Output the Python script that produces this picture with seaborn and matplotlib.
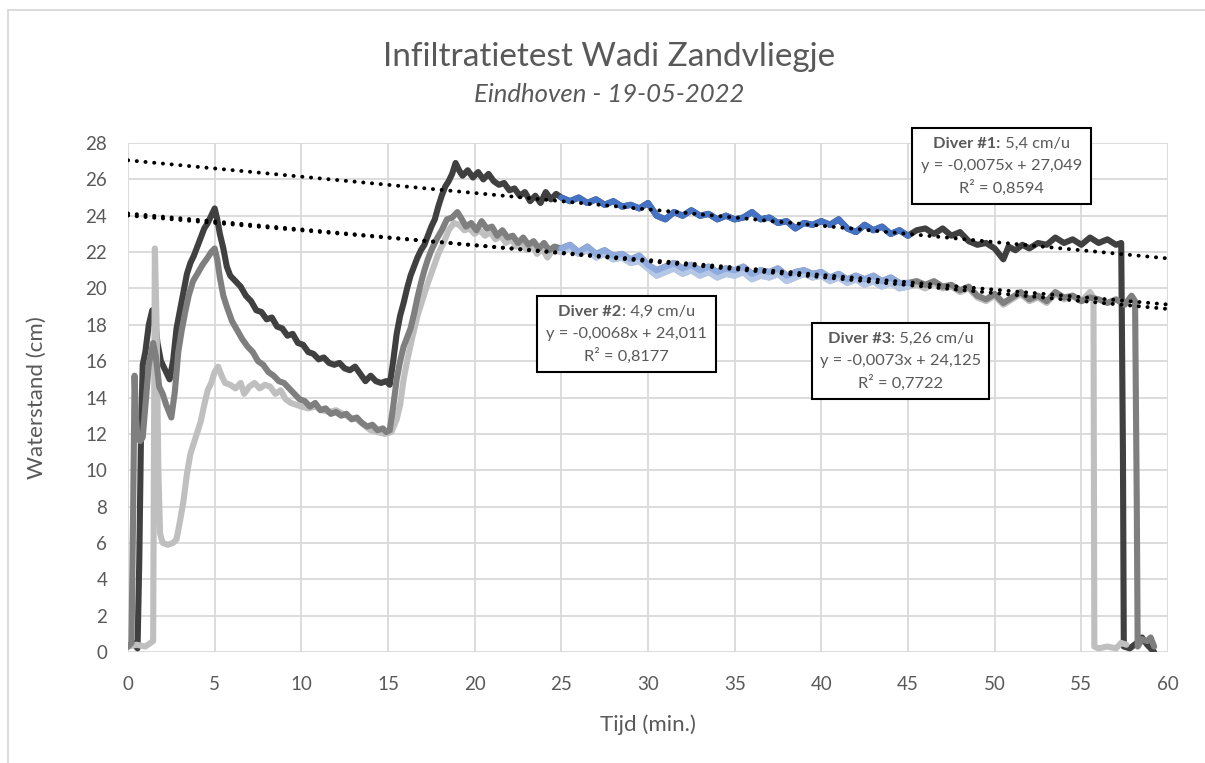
import numpy as np
import pandas as pd
import matplotlib
matplotlib.use("Agg")
import matplotlib.pyplot as plt
from matplotlib.patches import Rectangle
import seaborn as sns

# ---------------- data ----------------
d1_t = [0, 0.3, 0.55, 0.65, 0.75, 0.85, 1.0, 1.2, 1.4, 1.55, 1.7, 1.9, 2.1, 2.4, 2.6, 2.8, 3.0, 3.2, 3.4, 3.6,
        3.8, 4.0, 4.2, 4.4, 4.6, 4.8, 5.0, 5.15, 5.3, 5.5, 5.7, 5.9, 6.2, 6.5, 6.8, 7.1, 7.4, 7.7, 8.0, 8.3,
        8.6, 8.9, 9.2, 9.5, 9.8, 10.1, 10.4, 10.7, 11.0, 11.3, 11.6, 11.9, 12.2, 12.5, 12.8, 13.1, 13.4, 13.7, 14.0, 14.3,
        14.6, 14.9, 15.1, 15.3, 15.5, 15.7, 15.9, 16.1, 16.3, 16.5, 16.7, 16.9, 17.1, 17.3, 17.5, 17.7, 17.9, 18.1, 18.3, 18.5,
        18.7, 18.9, 19.1, 19.3, 19.6, 19.9, 20.2, 20.5, 20.8, 21.1, 21.4, 21.7, 22.0, 22.3, 22.6, 22.9, 23.2, 23.5, 23.8, 24.1,
        24.4, 24.7, 25.0, 25.5, 26.0, 26.5, 27.0, 27.5, 28.0, 28.5, 29.0, 29.5, 30.0, 30.5, 31.0, 31.5, 32.0, 32.5, 33.0, 33.5,
        34.0, 34.5, 35.0, 35.5, 36.0, 36.5, 37.0, 37.5, 38.0, 38.5, 39.0, 39.5, 40.0, 40.5, 41.0, 41.5, 42.0, 42.5, 43.0, 43.5,
        44.0, 44.5, 45.0, 45.5, 46.0, 46.5, 47.0, 47.5, 48.0, 48.5, 49.0, 49.5, 50.0, 50.5, 50.8, 51.2, 51.6, 52.0, 52.5, 53.0,
        53.5, 54.0, 54.5, 55.0, 55.5, 56.0, 56.5, 57.0, 57.3, 57.4, 57.45, 57.8, 58.2, 58.5, 58.8, 59.0, 59.2]
d1_v = [0.3, 0.5, 0.2, 5.0, 12.0, 15.8, 16.5, 18.0, 18.8, 18.3, 17.0, 16.0, 15.6, 15.0, 16.0, 17.8, 18.8, 19.8, 20.8, 21.4,
        21.8, 22.3, 22.8, 23.3, 23.6, 24.0, 24.4, 23.8, 23.0, 22.2, 21.2, 20.7, 20.4, 20.1, 19.6, 19.3, 18.8, 18.7, 18.3, 18.4,
        17.9, 17.8, 17.4, 17.5, 17.0, 16.9, 16.5, 16.4, 16.1, 16.2, 15.9, 15.8, 15.9, 15.6, 15.5, 15.7, 15.3, 14.9, 15.2, 14.9,
        14.8, 14.9, 14.7, 16.0, 17.5, 18.5, 19.2, 20.0, 20.7, 21.2, 21.7, 22.1, 22.4, 22.9, 23.4, 23.8, 24.5, 25.1, 25.6, 25.9,
        26.3, 26.9, 26.5, 26.2, 26.5, 26.1, 26.4, 26.0, 26.3, 25.9, 25.7, 25.8, 25.4, 25.5, 25.1, 25.3, 24.8, 25.1, 24.7, 25.3,
        24.9, 25.2, 25.0, 24.8, 25.0, 24.7, 24.9, 24.6, 24.8, 24.5, 24.6, 24.4, 24.7, 24.0, 23.8, 24.2, 24.0, 24.3, 24.0, 24.1,
        23.8, 24.0, 23.8, 23.9, 24.2, 23.8, 23.9, 23.6, 23.7, 23.3, 23.6, 23.5, 23.7, 23.5, 23.8, 23.3, 23.1, 23.5, 23.2, 23.4,
        23.0, 23.2, 22.9, 23.2, 23.3, 23.0, 23.3, 22.9, 23.1, 22.6, 22.4, 22.5, 22.2, 21.6, 22.3, 22.1, 22.4, 22.2, 22.5, 22.4,
        22.8, 22.5, 22.7, 22.4, 22.8, 22.5, 22.7, 22.4, 22.5, 11.0, 0.3, 0.2, 0.5, 0.8, 0.4, 0.2, 0.0]

d2_t = [0, 0.2, 0.3, 0.38, 0.45, 0.55, 0.7, 0.85, 1.0, 1.2, 1.45, 1.6, 1.8, 2.0, 2.2, 2.5, 2.7, 2.9, 3.1, 3.3,
        3.5, 3.75, 4.0, 4.3, 4.6, 4.8, 5.0, 5.15, 5.3, 5.5, 5.7, 6.0, 6.3, 6.6, 6.9, 7.2, 7.5, 7.8, 8.1, 8.4,
        8.7, 9.0, 9.3, 9.6, 9.9, 10.2, 10.5, 10.8, 11.1, 11.4, 11.7, 12.0, 12.3, 12.6, 12.9, 13.2, 13.5, 13.8, 14.1, 14.4,
        14.7, 14.9, 15.1, 15.3, 15.5, 15.7, 15.9, 16.1, 16.3, 16.5, 16.7, 16.9, 17.1, 17.3, 17.5, 17.8, 18.1, 18.4, 18.7, 19.0,
        19.2, 19.5, 19.8, 20.1, 20.4, 20.7, 21.0, 21.3, 21.6, 21.9, 22.2, 22.5, 22.8, 23.1, 23.4, 23.7, 24.0, 24.3, 24.6, 25.0,
        25.5, 26.0, 26.5, 27.0, 27.5, 28.0, 28.5, 29.0, 29.5, 30.0, 30.5, 31.0, 31.5, 32.0, 32.5, 33.0, 33.5, 34.0, 34.5, 35.0,
        35.5, 36.0, 36.5, 37.0, 37.5, 38.0, 38.5, 39.0, 39.5, 40.0, 40.5, 41.0, 41.5, 42.0, 42.5, 43.0, 43.5, 44.0, 44.5, 45.0,
        45.5, 46.0, 46.5, 47.0, 47.5, 48.0, 48.5, 49.0, 49.5, 50.0, 50.5, 51.0, 51.5, 52.0, 52.5, 53.0, 53.5, 54.0, 54.5, 55.0,
        55.5, 56.0, 56.5, 57.0, 57.5, 57.9, 58.1, 58.2, 58.25, 58.5, 58.8, 59.0, 59.2]
d2_v = [0.3, 0.5, 8.0, 15.2, 13.0, 11.8, 11.6, 11.8, 13.5, 15.8, 17.0, 16.3, 14.6, 14.2, 13.6, 12.9, 14.3, 16.5, 17.7, 18.7,
        19.6, 20.4, 20.8, 21.3, 21.7, 22.0, 22.2, 21.6, 20.6, 19.6, 19.0, 18.2, 17.7, 17.2, 16.8, 16.5, 16.0, 15.8, 15.4, 15.2,
        14.9, 14.8, 14.5, 14.2, 13.9, 13.8, 13.5, 13.7, 13.3, 13.4, 13.1, 13.2, 13.0, 13.1, 12.8, 12.9, 12.6, 12.4, 12.5, 12.2,
        12.3, 12.1, 12.2, 13.5, 15.0, 16.0, 16.8, 17.3, 17.8, 18.6, 19.5, 20.3, 21.0, 21.6, 22.1, 22.7, 23.2, 23.8, 23.9, 24.2,
        23.9, 23.4, 23.6, 23.2, 23.7, 23.3, 23.4, 22.9, 23.2, 22.8, 22.9, 22.5, 22.8, 22.4, 22.6, 22.2, 22.5, 22.1, 22.3, 22.2,
        22.4, 22.0, 22.3, 21.9, 22.1, 21.8, 21.9, 21.6, 21.8, 21.3, 21.0, 21.2, 21.4, 21.1, 21.3, 21.0, 21.2, 20.9, 21.1, 21.0,
        21.2, 20.8, 21.0, 20.9, 21.1, 20.7, 20.9, 21.0, 20.8, 20.9, 20.6, 20.8, 20.5, 20.7, 20.5, 20.7, 20.4, 20.6, 20.3, 20.3,
        20.4, 20.2, 20.4, 20.1, 20.2, 19.9, 20.1, 19.6, 19.4, 19.7, 19.2, 19.5, 19.8, 19.4, 19.6, 19.3, 19.8, 19.5, 19.6, 19.3,
        19.5, 19.4, 19.2, 19.4, 19.1, 19.6, 19.3, 8.0, 0.3, 0.7, 0.6, 0.8, 0.3]

d3_t = [0, 0.5, 1.0, 1.3, 1.45, 1.55, 1.65, 1.75, 1.85, 2.0, 2.3, 2.6, 2.8, 3.0, 3.2, 3.4, 3.6, 3.8, 4.0, 4.2,
        4.4, 4.6, 4.8, 5.0, 5.2, 5.4, 5.6, 5.9, 6.2, 6.5, 6.7, 7.0, 7.3, 7.6, 7.9, 8.2, 8.5, 8.8, 9.1, 9.4,
        9.7, 10.0, 10.4, 10.8, 11.2, 11.6, 12.0, 12.4, 12.8, 13.2, 13.6, 14.0, 14.4, 14.8, 15.2, 15.5, 15.7, 15.9, 16.1, 16.4,
        16.7, 17.0, 17.3, 17.6, 17.9, 18.2, 18.5, 18.8, 19.1, 19.4, 19.7, 20.0, 20.3, 20.6, 20.9, 21.2, 21.5, 21.8, 22.1, 22.4,
        22.7, 23.0, 23.3, 23.6, 23.9, 24.2, 24.5, 25.0, 25.5, 26.0, 26.5, 27.0, 27.5, 28.0, 28.5, 29.0, 29.5, 30.0, 30.5, 31.0,
        31.5, 32.0, 32.5, 33.0, 33.5, 34.0, 34.5, 35.0, 35.5, 36.0, 36.5, 37.0, 37.5, 38.0, 38.5, 39.0, 39.5, 40.0, 40.5, 41.0,
        41.5, 42.0, 42.5, 43.0, 43.5, 44.0, 44.5, 45.0, 45.5, 46.0, 46.5, 47.0, 47.5, 48.0, 48.5, 49.0, 49.5, 50.0, 50.5, 51.0,
        51.5, 52.0, 52.5, 53.0, 53.5, 54.0, 54.5, 55.0, 55.5, 55.7, 55.75, 56.0, 56.5, 57.0, 57.3, 57.6]
d3_v = [0.3, 0.4, 0.3, 0.5, 0.6, 22.2, 18.0, 10.0, 6.5, 6.0, 5.9, 6.0, 6.2, 7.2, 8.3, 9.8, 10.9, 11.5, 12.1, 12.7,
        13.6, 14.4, 14.8, 15.4, 15.7, 15.2, 14.8, 14.7, 14.5, 14.8, 14.2, 14.6, 14.8, 14.5, 14.7, 14.6, 14.2, 14.4, 13.9, 13.7,
        13.6, 13.5, 13.4, 13.5, 13.3, 13.2, 13.3, 13.1, 12.9, 12.8, 12.5, 12.2, 12.1, 12.0, 12.1, 12.8, 13.6, 15.0, 16.0, 17.3,
        18.5, 19.4, 20.3, 21.1, 21.9, 22.5, 23.2, 23.6, 23.5, 23.2, 23.3, 23.0, 23.2, 22.9, 23.1, 22.7, 22.9, 22.5, 22.7, 22.3,
        22.6, 22.1, 22.4, 21.9, 22.2, 21.7, 22.1, 22.0, 22.2, 21.9, 22.1, 21.7, 21.9, 21.6, 21.7, 21.4, 21.5, 21.1, 20.7, 20.9,
        21.1, 20.8, 21.0, 20.7, 20.9, 20.6, 20.8, 20.7, 20.9, 20.5, 20.7, 20.6, 20.8, 20.4, 20.6, 20.8, 20.6, 20.7, 20.4, 20.6,
        20.3, 20.5, 20.2, 20.4, 20.1, 20.3, 20.0, 20.1, 20.2, 20.0, 20.3, 20.0, 20.1, 19.8, 20.0, 19.5, 19.3, 19.6, 19.1, 19.4,
        19.7, 19.3, 19.5, 19.2, 19.7, 19.4, 19.6, 19.3, 19.8, 19.5, 0.3, 0.2, 0.3, 0.2, 0.5, 0.4]

# Excel trend lines (x in 5-second samples -> 12 samples per minute)
trend_slope = [-0.0075, -0.0068, -0.0073]
trend_icept = [27.049, 24.011, 24.125]
samples_per_min = 12

fit_range = (25, 45)
x_ticks = list(range(0, 61, 5))
y_ticks = list(range(0, 29, 2))

labels = [("Diver #1:", " 5,4 cm/u", "y = -0,0075x + 27,049", "R² = 0,8594"),
          ("Diver #2", ": 4,9 cm/u", "y = -0,0068x + 24,011", "R² = 0,8177"),
          ("Diver #3", ": 5,26 cm/u", "y = -0,0073x + 24,125", "R² = 0,7722")]

# ---------------- styling ----------------
sns.set_theme(style="white")
plt.rcParams['font.family'] = ['Lato', 'DejaVu Sans']

TXT = '#595959'
GRID = '#d9d9d9'
greys = ['#404040', '#7f7f7f', '#bfbfbf']
blues = ['#4472c4', '#8faadc', '#b4c7e7']
LW = 4.4
W, H = 1205, 763

fig = plt.figure(figsize=(W / 100, H / 100), dpi=100)
ax = fig.add_axes([128 / W, 1 - 652 / H, 1040 / W, 509 / H])

frames = []
for name, t, v in [("Diver #1", d1_t, d1_v), ("Diver #2", d2_t, d2_v), ("Diver #3", d3_t, d3_v)]:
    frames.append(pd.DataFrame({"t": t, "v": v, "diver": name}))
df = pd.concat(frames, ignore_index=True)

order = ["Diver #1", "Diver #3", "Diver #2"]
cidx = {"Diver #1": 0, "Diver #2": 1, "Diver #3": 2}
for name in order:
    sub = df[df.diver == name]
    sns.lineplot(data=sub, x="t", y="v", sort=False, estimator=None, color=greys[cidx[name]],
                 lw=LW, ax=ax, legend=False, solid_joinstyle='round', solid_capstyle='round', zorder=3)
for name in order:
    sub = df[(df.diver == name) & (df.t >= fit_range[0]) & (df.t <= fit_range[1])]
    sns.lineplot(data=sub, x="t", y="v", sort=False, estimator=None, color=blues[cidx[name]],
                 lw=LW, ax=ax, legend=False, solid_joinstyle='round', solid_capstyle='round', zorder=4)

tt = np.array([0.0, 60.0])
for s, b in zip(trend_slope, trend_icept):
    ax.plot(tt, b + s * samples_per_min * tt, color='black', lw=2.8,
            linestyle=(0, (0.05, 2.2)), dash_capstyle='round', zorder=6)

ax.set_xlim(0, 60)
ax.set_ylim(0, 28)
ax.set_xticks(x_ticks)
ax.set_yticks(y_ticks)
ax.grid(True, color=GRID, lw=1.3)
ax.set_axisbelow(True)
for sp in ax.spines.values():
    sp.set_visible(False)
ax.tick_params(length=0, colors=TXT, labelsize=13.5)
ax.tick_params(axis='y', pad=15)
ax.tick_params(axis='x', pad=17)
ax.set_xlabel("Tijd (min.)", color=TXT, fontsize=16, labelpad=16)
ax.set_ylabel("Waterstand (cm)", color=TXT, fontsize=16, labelpad=28)

fig.text(609 / W, 1 - 57 / H, "Infiltratietest Wadi Zandvliegje", ha='center', va='center',
         color=TXT, fontsize=24)
fig.text(609 / W, 1 - 95 / H, "Eindhoven - 19-05-2022", ha='center', va='center',
         color=TXT, fontsize=18.5, style='italic')

# annotation boxes: centre (px), width, height (px) in the figure
boxes = [(1001.5, 166, 179, 76), (626.5, 334, 179, 76), (900.5, 361, 177, 76)]
FS = 11.8
LINE_DY = 22
fig.canvas.draw()
renderer = fig.canvas.get_renderer()
for (bold, rest, eq, r2), (cx, cy, bw, bh) in zip(labels, boxes):
    fig.patches.append(Rectangle(((cx - bw / 2) / W, 1 - (cy + bh / 2) / H), bw / W, bh / H,
                                 transform=fig.transFigure, fc='white', ec='black', lw=1.5, zorder=8))
    tb = fig.text(0, 0, bold, fontsize=FS, fontweight='bold', color=TXT)
    tr = fig.text(0, 0, rest, fontsize=FS, color=TXT)
    wb = tb.get_window_extent(renderer).width
    wr = tr.get_window_extent(renderer).width
    tb.remove(); tr.remove()
    x0 = cx - (wb + wr) / 2.0
    y1 = cy - LINE_DY
    fig.text(x0 / W, 1 - y1 / H, bold, ha='left', va='center', fontsize=FS, fontweight='bold',
             color=TXT, zorder=9)
    fig.text((x0 + wb) / W, 1 - y1 / H, rest, ha='left', va='center', fontsize=FS, color=TXT, zorder=9)
    fig.text(cx / W, 1 - cy / H, eq, ha='center', va='center', fontsize=FS, color=TXT, zorder=9)
    fig.text(cx / W, 1 - (cy + LINE_DY) / H, r2, ha='center', va='center', fontsize=FS, color=TXT, zorder=9)

fig.patches.append(Rectangle((8 / W, -0.05), 1.2, 1 - 10 / H + 0.05, transform=fig.transFigure,
                             fill=False, ec=GRID, lw=1.3))

fig.savefig("out.png", dpi=100)
